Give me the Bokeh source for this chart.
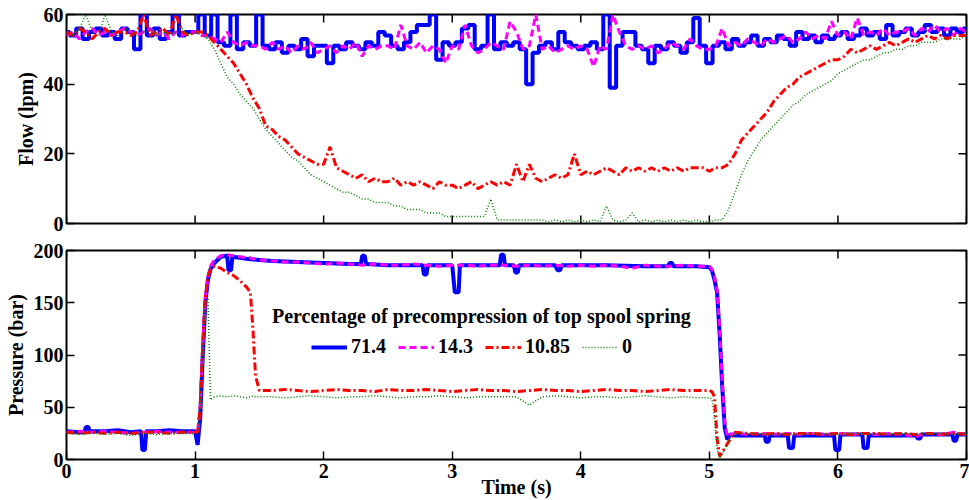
import numpy as np
from bokeh.plotting import figure
from bokeh.models import Legend, LegendItem, Label, FixedTicker, Range1d
from bokeh.layouts import column
from bokeh.embed import file_html
from bokeh.resources import INLINE

FONT = "Liberation Serif"

# ---------------- data ----------------
series_labels = ["71.4", "14.3", "10.85", "0"]
legend_title = "Percentage of precompression of top spool spring"

# flow sample times (s)
t_flow = np.round(np.arange(141) * 0.05, 2)

flow_714 = [55, 54, 56, 53, 55, 56, 54, 55, 53, 56,
            55, 50, 60, 54, 56, 53, 55, 60, 54, 55,
            55, 60, 54, 60, 52, 51, 60, 50, 52, 51,
            60, 51, 50, 52, 49, 51, 50, 53, 48, 51,
            51, 46, 51, 50, 52, 51, 50, 52, 51, 55,
            54, 51, 50, 52, 55, 57, 57, 60, 47, 52,
            51, 52, 56, 57, 50, 51, 60, 50, 52, 51,
            52, 50, 40, 49, 51, 52, 50, 55, 52, 51,
            50, 51, 52, 50, 60, 39, 51, 55, 55, 51,
            50, 46, 51, 50, 52, 51, 49, 52, 59, 51,
            46, 51, 52, 50, 53, 51, 52, 54, 51, 53,
            52, 54, 53, 51, 55, 53, 54, 52, 54, 53,
            54, 55, 53, 54, 56, 54, 55, 53, 57, 54,
            55, 56, 54, 55, 57, 55, 56, 54, 56, 55,
            56]

flow_143 = [54, 55, 53, 55, 56, 54, 55, 54, 55, 56,
            55, 54, 55, 56, 54, 55, 53, 55, 54, 55,
            55, 54, 54, 53, 52, 55, 52, 51, 52, 51,
            51, 50, 52, 50, 51, 49, 51, 50, 52, 49,
            50, 51, 49, 51, 50, 52, 48, 51, 50, 51,
            51, 50, 57, 51, 50, 52, 49, 51, 50, 46,
            51, 50, 57, 51, 49, 50, 52, 51, 50, 58,
            55, 50, 51, 60, 50, 51, 49, 50, 51, 50,
            51, 50, 45, 51, 50, 60, 55, 51, 50, 51,
            50, 51, 49, 50, 52, 51, 50, 53, 51, 50,
            50, 51, 56, 51, 52, 51, 53, 52, 51, 53,
            52, 53, 54, 52, 53, 55, 53, 54, 53, 58,
            54, 55, 53, 59, 54, 55, 54, 56, 54, 55,
            55, 56, 54, 56, 55, 57, 55, 56, 54, 56,
            55]

flow_1085 = [55, 54, 56, 55, 53, 55, 56, 54, 55, 55,
             54, 55, 60, 54, 55, 56, 54, 60, 55, 54,
             55, 55, 54, 52, 50, 48, 46, 43, 40, 36,
             33, 28, 27, 25, 24, 22, 20, 19, 18, 17,
             17, 22, 16, 15, 14, 13, 14, 12, 13, 12,
             12, 13, 11, 12, 11, 12, 11, 10, 12, 11,
             11, 10, 11, 12, 10, 11, 12, 11, 12, 11,
             17, 12, 17, 13, 12, 13, 14, 13, 14, 20,
             14, 15, 14, 15, 16, 15, 14, 16, 15, 16,
             15, 16, 15, 16, 15, 16, 15, 16, 16, 16,
             15, 16, 16, 17, 20, 24, 26, 28, 30, 32,
             35, 37, 39, 40, 42, 43, 44, 45, 46, 47,
             47, 48, 50, 49, 50, 51, 50, 51, 52, 51,
             52, 53, 52, 53, 54, 53, 54, 53, 54, 54,
             54]

flow_0 = [55, 54, 56, 60, 55, 54, 60, 55, 54, 56,
          55, 54, 55, 56, 54, 55, 54, 55, 56, 54,
          55, 54, 53, 50, 46, 42, 40, 37, 35, 33,
          30, 27, 25, 23, 21, 19, 18, 16, 14, 13,
          12, 11, 10, 9, 9, 8, 7, 7, 6, 6,
          6, 5, 5, 4, 4, 4, 3, 3, 3, 2,
          2, 2, 2, 2, 2, 2, 7, 1, 1, 1,
          1, 1, 1, 1, 1, 0.5, 1, 0.5, 1, 0.5,
          1, 0.5, 1, 0.5, 5, 1, 0.5, 1, 3, 0.5,
          1, 0.5, 1, 0.5, 1, 0.5, 1, 0.5, 1, 0.5,
          0.5, 1, 1, 4, 9, 14, 18, 21, 24, 26,
          28, 30, 32, 34, 35, 37, 38, 39, 40, 41,
          43, 44, 45, 46, 47, 47, 48, 49, 49, 50,
          50, 51, 51, 52, 52, 52, 53, 53, 53, 53,
          54]

# pressure sample times (s), shared by the 14.3, 10.85 and 0 traces
t_press = [0.0, 0.1, 0.2, 0.3, 0.4, 0.5, 0.6, 0.7, 0.8, 0.9, 1.0,
           1.02, 1.04, 1.06, 1.08, 1.1, 1.12, 1.15, 1.2, 1.25, 1.3, 1.35, 1.4, 1.43, 1.45, 1.47, 1.5,
           1.6, 1.7, 1.8, 1.9, 2.0, 2.1, 2.2, 2.3, 2.4, 2.5, 2.6, 2.7, 2.8, 2.9, 3.0, 3.1, 3.2,
           3.3, 3.4, 3.5, 3.6, 3.7, 3.8, 3.9, 4.0, 4.1, 4.2, 4.3, 4.4, 4.5, 4.6, 4.7, 4.8, 4.9,
           5.0, 5.02, 5.04, 5.06, 5.08, 5.1, 5.12, 5.14, 5.16, 5.2,
           5.3, 5.4, 5.5, 5.6, 5.7, 5.8, 5.9, 6.0, 6.1, 6.2, 6.3, 6.4, 6.5, 6.6, 6.7, 6.8, 6.9, 7.0]

# 71.4 pressure trace, read with its narrow spikes
t_press_714 = [0.0, 0.1, 0.14, 0.15, 0.17, 0.18, 0.3, 0.4, 0.5, 0.58, 0.59, 0.61, 0.62, 0.7, 0.8, 0.9, 1.0,
               1.02, 1.04, 1.06, 1.08, 1.1, 1.12, 1.15, 1.2, 1.25, 1.26, 1.28, 1.29, 1.35, 1.4, 1.5,
               1.6, 1.8, 2.0, 2.2, 2.29, 2.3, 2.32, 2.33, 2.5, 2.7, 2.77, 2.78, 2.8, 2.81, 3.0, 3.02,
               3.05, 3.06, 3.3, 3.37, 3.38, 3.4, 3.41, 3.48, 3.49, 3.51, 3.52, 3.8, 3.82, 3.84, 3.85,
               4.2, 4.5, 4.68, 4.69, 4.71, 4.72, 4.9,
               5.0, 5.02, 5.04, 5.06, 5.08, 5.1, 5.12, 5.14, 5.16, 5.2,
               5.43, 5.44, 5.46, 5.47, 5.61, 5.62, 5.65, 5.66, 5.97, 5.98, 6.01, 6.02, 6.19, 6.2,
               6.23, 6.24, 6.61, 6.62, 6.64, 6.65, 6.89, 6.9, 6.92, 6.93, 7.0]
press_714 = [27, 26, 26, 31, 31, 27, 27, 28, 26, 27, 9, 9, 27, 27, 28, 27, 27,
             14, 40, 100, 150, 172, 182, 188, 194, 195, 181, 181, 194, 193, 192, 191,
             190, 189, 188, 187, 187, 195, 195, 187, 186, 186, 186, 177, 177, 186, 186, 160,
             160, 186, 186, 186, 196, 196, 186, 186, 179, 179, 186, 186, 181, 181, 186,
             186, 185, 185, 188, 188, 185, 185,
             184, 181, 172, 160, 120, 70, 30, 19, 24, 23,
             23, 17, 17, 23, 23, 11, 11, 23, 23, 9, 9, 24, 24, 11,
             11, 23, 23, 20, 20, 24, 24, 18, 18, 24, 24]

press_143 = [26, 27, 26, 27, 26, 25, 26, 27, 26, 26, 26,
             27, 50, 110, 155, 175, 185, 191, 195, 196, 195, 194, 193, 193, 192, 192, 191,
             190, 189, 189, 188, 187, 188, 187, 186, 187, 186, 186, 187, 186, 185, 186, 186, 185,
             186, 186, 185, 186, 185, 186, 185, 186, 185, 186, 185, 183, 186, 185, 185, 186, 185,
             185, 182, 175, 162, 125, 75, 35, 22, 24, 25,
             24, 25, 24, 25, 24, 25, 24, 25, 24, 25, 24, 25, 24, 22, 25, 24, 26, 24]

press_1085 = [26, 25, 26, 25, 26, 25, 26, 26, 25, 26, 26,
              26, 50, 110, 155, 175, 182, 185, 183, 179, 176, 171, 165, 160, 125, 80, 66,
              66, 67, 66, 65, 66, 67, 66, 66, 65, 67, 66, 66, 67, 66, 65, 66, 67,
              66, 66, 65, 66, 67, 66, 66, 65, 66, 67, 66, 66, 65, 66, 67, 66, 66,
              66, 65, 60, 20, 3, 7, 11, 15, 19, 26,
              25, 24, 25, 24, 25, 25, 24, 25, 24, 25, 25, 24, 25, 24, 25, 24, 25, 24]

press_0 = [25, 24, 25, 24, 25, 23, 25, 24, 25, 25, 25,
           25, 50, 110, 150, 155, 57, 60, 61, 60, 61, 60, 59, 60, 61, 60, 60,
           60, 59, 60, 61, 60, 59, 60, 60, 61, 60, 59, 60, 60, 61, 60, 59, 60,
           60, 60, 60, 52, 60, 61, 60, 59, 60, 60, 59, 60, 61, 60, 59, 60, 59,
           59, 58, 40, 10, 1, 5, 10, 15, 20, 25,
           25, 25, 24, 25, 24, 25, 25, 24, 25, 25, 24, 25, 25, 24, 25, 25, 24, 25]

x_ticks = [0, 1, 2, 3, 4, 5, 6, 7]
flow_ticks = [0, 20, 40, 60]
press_ticks = [0, 50, 100, 150, 200]

colors = ["#0000FF", "#FF00FF", "#FF0000", "#008000"]
widths = [4, 3, 3, 1.5]
dashes = ["solid", "7 4", "8 3 2 3", "1 2"]

TICK = 8


def style(p, ymin, ymax, yticks, bottom_axis):
    p.outline_line_color = "black"
    p.outline_line_width = 2
    p.xgrid.visible = False
    p.ygrid.visible = False
    p.background_fill_color = "white"
    p.border_fill_color = "white"
    p.xaxis.ticker = FixedTicker(ticks=x_ticks)
    p.yaxis.ticker = FixedTicker(ticks=yticks)
    for ax in p.axis:
        ax.major_tick_in = TICK
        ax.major_tick_out = 0
        ax.minor_tick_line_color = None
        ax.axis_line_color = None
        ax.major_tick_line_color = "black"
        ax.major_tick_line_width = 1.5
        ax.major_label_text_font = FONT
        ax.major_label_text_font_style = "bold"
        ax.major_label_text_font_size = "20px"
        ax.major_label_text_color = "black"
        ax.major_label_standoff = 3
        ax.axis_label_text_font = FONT
        ax.axis_label_text_font_style = "bold"
        ax.axis_label_text_font_size = "20px"
        ax.axis_label_text_color = "black"
        ax.axis_label_standoff = 4
    if not bottom_axis:
        p.xaxis.visible = False
        p.ray(x=x_ticks, y=[ymin] * len(x_ticks), length=TICK, angle=np.pi / 2,
              length_units="screen", line_color="black", line_width=1.5)
    # inward ticks on the top and right edges of the box
    p.ray(x=x_ticks, y=[ymax] * len(x_ticks), length=TICK, angle=-np.pi / 2,
          length_units="screen", line_color="black", line_width=1.5)
    p.ray(x=[7] * len(yticks), y=yticks, length=TICK, angle=np.pi,
          length_units="screen", line_color="black", line_width=1.5)


xr = Range1d(0, 7)

p1 = figure(width=969, height=236, x_range=xr, y_range=Range1d(0, 60),
            output_backend="svg", toolbar_location=None,
            min_border_left=66, min_border_right=3, min_border_top=14, min_border_bottom=13)
style(p1, 0, 60, flow_ticks, False)
p1.yaxis[0].axis_label = "Flow (lpm)"

# 71.4 flow: blocky stepped trace as in the figure
p1.step(t_flow, flow_714, mode="center", line_color=colors[0], line_width=widths[0])
flows = [flow_143, flow_1085, flow_0]
for ys, c, w, d in zip(flows, colors[1:], widths[1:], dashes[1:]):
    p1.line(t_flow, ys, line_color=c, line_width=w, line_dash=d)

p2 = figure(width=969, height=264, x_range=xr, y_range=Range1d(0, 200),
            output_backend="svg", toolbar_location=None,
            min_border_left=66, min_border_right=3, min_border_top=14, min_border_bottom=39)
style(p2, 0, 200, press_ticks, True)
p2.yaxis[0].axis_label = "Pressure (bar)"
p2.xaxis[0].axis_label = "Time (s)"
p2.xaxis[0].major_label_standoff = 4
p2.xaxis[0].axis_label_standoff = -5

press_t = [t_press_714, t_press, t_press, t_press]
pressures = [press_714, press_143, press_1085, press_0]
renderers = []
for ts, ys, c, w, d in zip(press_t, pressures, colors, widths, dashes):
    r = p2.line(ts, ys, line_color=c, line_width=w, line_dash=d)
    renderers.append(r)

legend = Legend(items=[LegendItem(label=lab, renderers=[r]) for lab, r in zip(series_labels, renderers)],
                orientation="horizontal", location=(245, 101),
                glyph_width=36, glyph_height=20, label_standoff=4, spacing=12,
                padding=0, margin=0, border_line_color=None, background_fill_alpha=0,
                label_text_font=FONT, label_text_font_style="bold",
                label_text_font_size="20px", label_text_color="black")
p2.add_layout(legend)

p2.add_layout(Label(x=3.227, y=137, text=legend_title, text_align="center", text_baseline="middle",
                    text_font=FONT, text_font_style="bold", text_font_size="20px", text_color="black"))

layout = column(p1, p2, spacing=0)
open("out.html", "w").write(file_html(layout, INLINE))
